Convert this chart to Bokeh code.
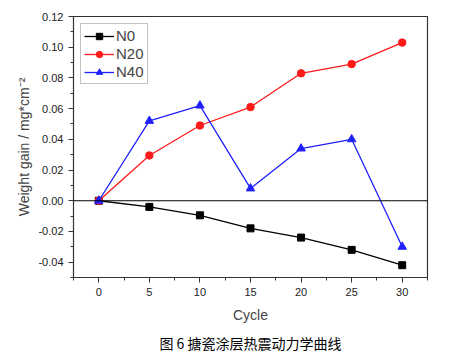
from bokeh.plotting import figure
from bokeh.models import Span, Title, Range1d, FixedTicker, Legend, LegendItem
from bokeh.embed import file_html
from bokeh.resources import INLINE

cycles = [0, 5, 10, 15, 20, 25, 30]
n0 = [0.0, -0.004, -0.0095, -0.018, -0.024, -0.032, -0.042]
n20 = [0.0, 0.0295, 0.049, 0.061, 0.083, 0.089, 0.103]
n40 = [0.0, 0.052, 0.062, 0.008, 0.034, 0.040, -0.030]
x_ticks = [0, 5, 10, 15, 20, 25, 30]
y_ticks = [-0.04, -0.02, 0.0, 0.02, 0.04, 0.06, 0.08, 0.10, 0.12]

p = figure(width=450, height=353, output_backend="svg", toolbar_location=None,
           x_range=Range1d(-2.5, 32.5), y_range=Range1d(-0.05, 0.12),
           min_border_left=73, min_border_right=23, min_border_top=16, min_border_bottom=0)
p.frame_width = 354
p.frame_height = 261
p.xgrid.visible = False
p.ygrid.visible = False
p.outline_line_color = "#333333"
p.outline_line_width = 1.2
p.background_fill_color = "white"
p.border_fill_color = "white"

p.add_layout(Span(location=0, dimension="width", line_color="black", line_width=1.2))

r0 = p.line(cycles, n0, line_color="black", line_width=1.3)
m0 = p.scatter(cycles, n0, marker="square", size=7, color="black")
r20 = p.line(cycles, n20, line_color="#ff1a1a", line_width=1.3)
m20 = p.scatter(cycles, n20, marker="circle", size=7.5, color="#ff1a1a")
r40 = p.line(cycles, n40, line_color="#2020ff", line_width=1.3)
m40 = p.scatter(cycles, n40, marker="triangle", size=8.5, color="#2020ff")

legend = Legend(items=[
    LegendItem(label="N0", renderers=[r0, m0]),
    LegendItem(label="N20", renderers=[r20, m20]),
    LegendItem(label="N40", renderers=[r40, m40]),
], location="top_left")
legend.label_text_font = "Liberation Sans"
legend.label_text_font_size = "15px"
legend.border_line_color = "#888888"
legend.border_line_width = 1
legend.glyph_width = 30
legend.glyph_height = 16
legend.label_height = 16
legend.spacing = 1
legend.padding = 3
legend.margin = 7
legend.label_standoff = 2
p.add_layout(legend)

for ax in (p.xaxis[0], p.yaxis[0]):
    ax.major_label_text_font = "Liberation Sans"
    ax.major_label_text_font_size = "11px"
    ax.major_label_text_color = "#222222"
    ax.axis_label_text_font = "Liberation Sans"
    ax.axis_label_text_font_size = "14px"
    ax.axis_label_text_font_style = "normal"
    ax.axis_line_color = "#333333"
    ax.major_tick_line_color = "#333333"
    ax.minor_tick_line_color = "#333333"
    ax.major_tick_out = 5
    ax.major_tick_in = 0
    ax.minor_tick_out = 3
    ax.minor_tick_in = 0

p.xaxis[0].ticker = FixedTicker(ticks=x_ticks, minor_ticks=[-2.5, 2.5, 7.5, 12.5, 17.5, 22.5, 27.5, 32.5])
p.yaxis[0].ticker = FixedTicker(ticks=y_ticks, minor_ticks=[-0.05, -0.03, -0.01, 0.01, 0.03, 0.05, 0.07, 0.09, 0.11])
p.yaxis[0].major_label_overrides = {v: f"{v:.2f}" for v in y_ticks}
p.yaxis[0].major_label_overrides[0.0] = "0.00"
p.xaxis[0].axis_label = "Cycle"
p.yaxis[0].axis_label = "Weight gain / mg*cm\u207b\u00b2"
p.xaxis[0].axis_label_standoff = 8
p.yaxis[0].axis_label_standoff = 3

cap = Title(text="图 6 搪瓷涂层热震动力学曲线", align="center",
            text_font="Noto Sans CJK SC", text_font_size="14px",
            text_font_style="normal", text_color="black")
p.add_layout(cap, "below")

open("out.html", "w").write(file_html(p, INLINE))
